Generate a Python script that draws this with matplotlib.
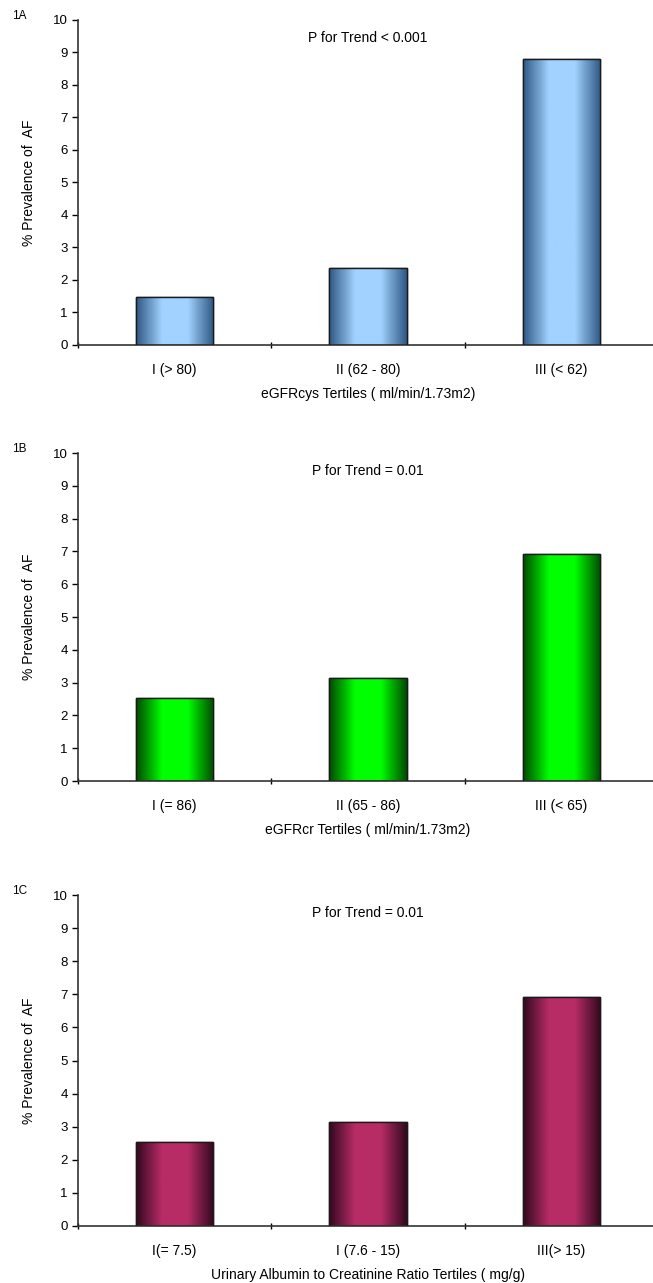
import numpy as np
import matplotlib
matplotlib.use("Agg")
import matplotlib.pyplot as plt
from matplotlib.colors import LinearSegmentedColormap

# panel data
panel_tags = ["1A", "1B", "1C"]
p_texts = ["P for Trend < 0.001", "P for Trend = 0.01", "P for Trend = 0.01"]
xlabels = ["eGFRcys Tertiles ( ml/min/1.73m2)",
           "eGFRcr Tertiles ( ml/min/1.73m2)",
           "Urinary Albumin to Creatinine Ratio Tertiles ( mg/g)"]
cats_a = ["I (> 80)", "II (62 - 80)", "III (< 62)"]
cats_b = ["I (= 86)", "II (65 - 86)", "III (< 65)"]
cats_c = ["I(= 7.5)", "I (7.6 - 15)", "III(> 15)"]
vals_a = [1.49, 2.36, 8.8]
vals_b = [2.53, 3.14, 6.92]
vals_c = [2.53, 3.14, 6.93]

plt.rcParams['font.family'] = ['Liberation Sans', 'DejaVu Sans']

fig = plt.figure(figsize=(6.53, 12.83), dpi=100)
H = 1283.0
W = 653.0

# (top, bottom) of each plot area in pixels
boxes = [(20, 345), (453, 781), (895, 1226)]
# edge colour / centre colour of the bar gradients
shades = [("#2f5a85", "#a2d2ff"), ("#004d00", "#00ff00"), ("#35091f", "#b82c66")]

all_cats = [cats_a, cats_b, cats_c]
all_vals = [vals_a, vals_b, vals_c]

for i in range(3):
    top, bot = boxes[i]
    ax = fig.add_axes([78 / W, 1 - bot / H, 580 / W, (bot - top) / H])
    x = np.arange(len(all_cats[i])) + 0.5
    edge, mid = shades[i]
    cmap = LinearSegmentedColormap.from_list("g", [edge, mid, mid, edge])
    grad = np.linspace(0, 1, 64).reshape(1, -1)

    bars = ax.bar(x, all_vals[i], width=0.4, color=mid, edgecolor="#1a1a1a",
                  linewidth=1.0, zorder=2)
    # horizontal shading inside each bar
    for b in bars:
        im = ax.imshow(grad, extent=[b.get_x(), b.get_x() + b.get_width(), 0, b.get_height()],
                       aspect="auto", cmap=cmap, zorder=2.5)
        im.set_clip_path(b)
        ax.add_patch(plt.Rectangle((b.get_x(), 0), b.get_width(), b.get_height(),
                                   fill=False, edgecolor="#1a1a1a", linewidth=1.0, zorder=3))

    ax.set_xlim(0, 3)
    ax.set_ylim(0, 10)
    ax.set_yticks(range(0, 11))
    ax.set_xticks([0, 1, 2, 3])
    ax.set_xticklabels([])
    ax.set_xticks(x, minor=True)
    ax.set_xticklabels(all_cats[i], minor=True, fontsize=10)
    ax.tick_params(axis="x", which="minor", length=0, pad=13)
    ax.tick_params(axis="x", which="major", length=4, direction="inout", width=1)
    ax.tick_params(axis="y", length=4, direction="out", labelsize=9.5, width=1)

    for s in ["top", "right"]:
        ax.spines[s].set_visible(False)
    ax.spines["left"].set_linewidth(1.2)
    ax.spines["bottom"].set_linewidth(1.2)
    ax.spines["left"].set_color("#333333")
    ax.spines["bottom"].set_color("#333333")

    ax.set_xlabel(xlabels[i], fontsize=10, labelpad=7)
    ax.set_ylabel("% Prevalence of  AF", fontsize=10, labelpad=12)
    ax.text(1.5, 9.45, p_texts[i], ha="center", va="center", fontsize=10)
    fig.text(12 / W, 1 - (top - 4) / H, panel_tags[i], ha="left", va="center", fontsize=8.5)

fig.savefig("out.png", dpi=100)
